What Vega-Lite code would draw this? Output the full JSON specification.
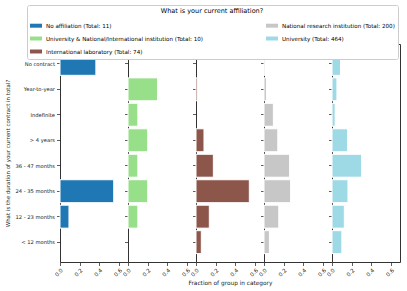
{
  "$schema": "https://vega.github.io/schema/vega-lite/v6.json",
  "padding": {"top": 4, "left": 5, "right": 5, "bottom": 5},
  "background": "white",
  "data": {"values": [
    {"aff": "No affiliation (Total: 11)", "dur": "No contract", "frac": 0.364},
    {"aff": "No affiliation (Total: 11)", "dur": "24 - 35 months", "frac": 0.545},
    {"aff": "No affiliation (Total: 11)", "dur": "12 - 23 months", "frac": 0.091},
    {"aff": "University & National/International institution (Total: 10)", "dur": "Year-to-year", "frac": 0.3},
    {"aff": "University & National/International institution (Total: 10)", "dur": "Indefinite", "frac": 0.1},
    {"aff": "University & National/International institution (Total: 10)", "dur": "> 4 years", "frac": 0.2},
    {"aff": "University & National/International institution (Total: 10)", "dur": "36 - 47 months", "frac": 0.1},
    {"aff": "University & National/International institution (Total: 10)", "dur": "24 - 35 months", "frac": 0.2},
    {"aff": "University & National/International institution (Total: 10)", "dur": "12 - 23 months", "frac": 0.1},
    {"aff": "International laboratory (Total: 74)", "dur": "Year-to-year", "frac": 0.0135},
    {"aff": "International laboratory (Total: 74)", "dur": "> 4 years", "frac": 0.081},
    {"aff": "International laboratory (Total: 74)", "dur": "36 - 47 months", "frac": 0.176},
    {"aff": "International laboratory (Total: 74)", "dur": "24 - 35 months", "frac": 0.541},
    {"aff": "International laboratory (Total: 74)", "dur": "12 - 23 months", "frac": 0.135},
    {"aff": "International laboratory (Total: 74)", "dur": "< 12 months", "frac": 0.054},
    {"aff": "National research institution (Total: 200)", "dur": "No contract", "frac": 0.01},
    {"aff": "National research institution (Total: 200)", "dur": "Year-to-year", "frac": 0.025},
    {"aff": "National research institution (Total: 200)", "dur": "Indefinite", "frac": 0.095},
    {"aff": "National research institution (Total: 200)", "dur": "> 4 years", "frac": 0.14},
    {"aff": "National research institution (Total: 200)", "dur": "36 - 47 months", "frac": 0.26},
    {"aff": "National research institution (Total: 200)", "dur": "24 - 35 months", "frac": 0.27},
    {"aff": "National research institution (Total: 200)", "dur": "12 - 23 months", "frac": 0.15},
    {"aff": "National research institution (Total: 200)", "dur": "< 12 months", "frac": 0.055},
    {"aff": "University (Total: 464)", "dur": "No contract", "frac": 0.086},
    {"aff": "University (Total: 464)", "dur": "Year-to-year", "frac": 0.05},
    {"aff": "University (Total: 464)", "dur": "Indefinite", "frac": 0.032},
    {"aff": "University (Total: 464)", "dur": "> 4 years", "frac": 0.158},
    {"aff": "University (Total: 464)", "dur": "36 - 47 months", "frac": 0.3},
    {"aff": "University (Total: 464)", "dur": "24 - 35 months", "frac": 0.162},
    {"aff": "University (Total: 464)", "dur": "12 - 23 months", "frac": 0.125},
    {"aff": "University (Total: 464)", "dur": "< 12 months", "frac": 0.1}
  ]},
  "spacing": 0,
  "bounds": "flush",
  "resolve": {"scale": {"color": "shared"}},
  "hconcat": [
    {
      "width": 68, "height": 218,
      "transform": [{"filter": "datum.aff === 'No affiliation (Total: 11)'"}],
      "mark": {"type": "bar", "stroke": "white", "strokeWidth": 1},
      "encoding": {
        "y": {"field": "dur", "type": "nominal", "sort": ["No contract", "Year-to-year", "Indefinite", "> 4 years", "36 - 47 months", "24 - 35 months", "12 - 23 months", "< 12 months"],
              "scale": {"domain": ["No contract", "Year-to-year", "Indefinite", "> 4 years", "36 - 47 months", "24 - 35 months", "12 - 23 months", "< 12 months"], "paddingInner": 0.1, "paddingOuter": 0.33},
              "axis": {"title": "What is the duration of your current contract in total?", "titleFontSize": 5.5, "labelFontSize": 5.2, "titleFontWeight": "normal", "titlePadding": 4}},
        "x": {"field": "frac", "type": "quantitative", "scale": {"domain": [0, 0.69], "nice": false}, "axis": {"title": null, "values": [0, 0.2, 0.4, 0.6]}},
        "color": {"field": "aff", "type": "nominal"}
      }
    },
    {
      "width": 68, "height": 218,
      "transform": [{"filter": "datum.aff === 'University & National/International institution (Total: 10)'"}],
      "mark": {"type": "bar", "stroke": "white", "strokeWidth": 1},
      "encoding": {
        "y": {"field": "dur", "type": "nominal",
              "scale": {"domain": ["No contract", "Year-to-year", "Indefinite", "> 4 years", "36 - 47 months", "24 - 35 months", "12 - 23 months", "< 12 months"], "paddingInner": 0.1, "paddingOuter": 0.33},
              "axis": {"title": null, "labels": false}},
        "x": {"field": "frac", "type": "quantitative", "scale": {"domain": [0, 0.69], "nice": false}, "axis": {"title": null, "values": [0, 0.2, 0.4, 0.6]}},
        "color": {"field": "aff", "type": "nominal"}
      }
    },
    {
      "width": 68, "height": 218,
      "transform": [{"filter": "datum.aff === 'International laboratory (Total: 74)'"}],
      "mark": {"type": "bar", "stroke": "white", "strokeWidth": 1},
      "encoding": {
        "y": {"field": "dur", "type": "nominal",
              "scale": {"domain": ["No contract", "Year-to-year", "Indefinite", "> 4 years", "36 - 47 months", "24 - 35 months", "12 - 23 months", "< 12 months"], "paddingInner": 0.1, "paddingOuter": 0.33},
              "axis": {"title": null, "labels": false}},
        "x": {"field": "frac", "type": "quantitative", "scale": {"domain": [0, 0.69], "nice": false}, "axis": {"title": "Fraction of group in category", "values": [0, 0.2, 0.4, 0.6], "titleFontSize": 5.8, "titleFontWeight": "normal", "titlePadding": 2}},
        "color": {"field": "aff", "type": "nominal"}
      }
    },
    {
      "width": 68, "height": 218,
      "transform": [{"filter": "datum.aff === 'National research institution (Total: 200)'"}],
      "mark": {"type": "bar", "stroke": "white", "strokeWidth": 1},
      "encoding": {
        "y": {"field": "dur", "type": "nominal",
              "scale": {"domain": ["No contract", "Year-to-year", "Indefinite", "> 4 years", "36 - 47 months", "24 - 35 months", "12 - 23 months", "< 12 months"], "paddingInner": 0.1, "paddingOuter": 0.33},
              "axis": {"title": null, "labels": false}},
        "x": {"field": "frac", "type": "quantitative", "scale": {"domain": [0, 0.69], "nice": false}, "axis": {"title": null, "values": [0, 0.2, 0.4, 0.6]}},
        "color": {"field": "aff", "type": "nominal"}
      }
    },
    {
      "width": 68, "height": 218,
      "transform": [{"filter": "datum.aff === 'University (Total: 464)'"}],
      "mark": {"type": "bar", "stroke": "white", "strokeWidth": 1},
      "encoding": {
        "y": {"field": "dur", "type": "nominal",
              "scale": {"domain": ["No contract", "Year-to-year", "Indefinite", "> 4 years", "36 - 47 months", "24 - 35 months", "12 - 23 months", "< 12 months"], "paddingInner": 0.1, "paddingOuter": 0.33},
              "axis": {"title": null, "labels": false}},
        "x": {"field": "frac", "type": "quantitative", "scale": {"domain": [0, 0.69], "nice": false}, "axis": {"title": null, "values": [0, 0.2, 0.4, 0.6]}},
        "color": {"field": "aff", "type": "nominal",
                  "scale": {"domain": ["No affiliation (Total: 11)", "University & National/International institution (Total: 10)", "International laboratory (Total: 74)", "National research institution (Total: 200)", "University (Total: 464)"],
                            "range": ["#1f77b4", "#98df8a", "#8c564b", "#c7c7c7", "#9edae5"]},
                  "legend": {"title": "What is your current affiliation?", "orient": "none", "legendX": -33, "legendY": -39, "columns": 2, "columnPadding": 62, "rowPadding": 3,
                             "symbolType": "M-1,-0.33H1V0.33H-1Z", "symbolSize": 144, "symbolStrokeWidth": 0, "symbolOpacity": 1,
                             "labelFontSize": 5.6, "labelLimit": 0, "titleFontSize": 6.5, "titleFontWeight": "normal", "titleAnchor": "middle",
                             "strokeColor": "#cccccc", "fillColor": "white", "padding": 3, "cornerRadius": 2}}
      }
    }
  ],
  "config": {
    "font": "DejaVu Sans",
    "view": {"stroke": "#333333", "strokeWidth": 1},
    "axis": {"domain": false, "grid": false, "tickColor": "#333333", "tickSize": 3.5, "tickWidth": 0.8, "labelColor": "#222222", "titleColor": "#222222"},
    "axisX": {"format": ".1f", "labelAngle": -45, "labelPadding": 2, "labelFontSize": 5.5, "labelFlush": false, "labelOverlap": false},
    "axisY": {"labelPadding": 2}
  }
}
